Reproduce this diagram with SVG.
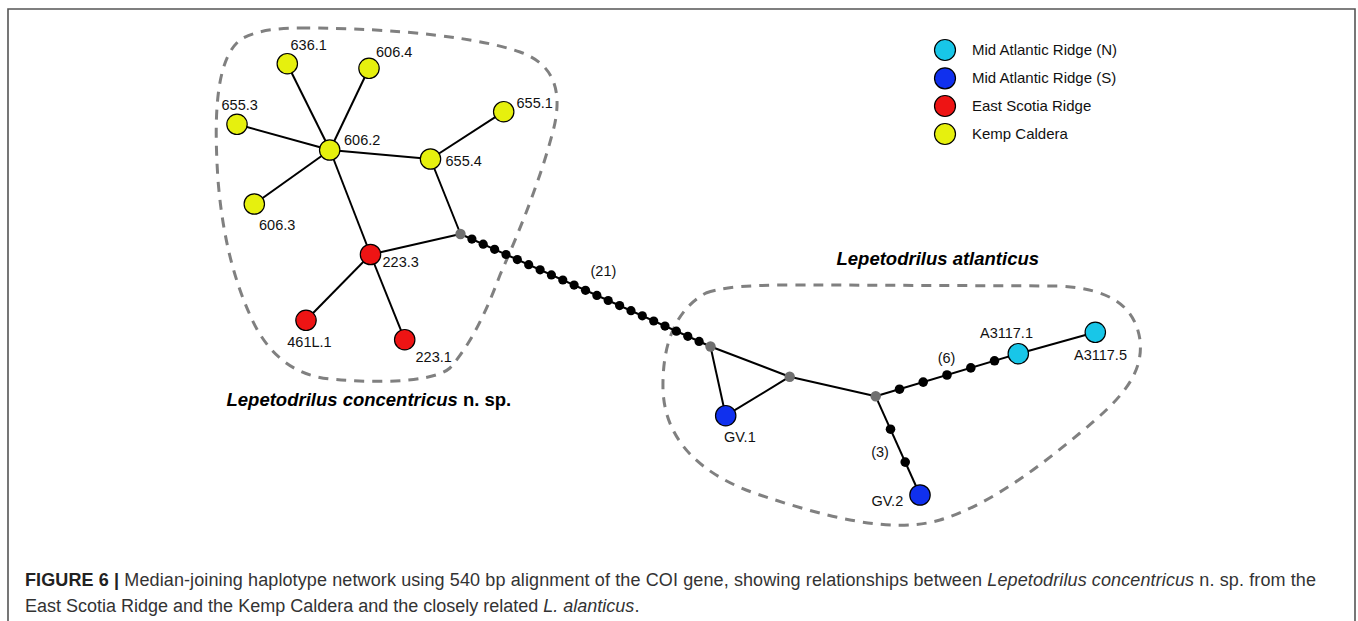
<svg xmlns="http://www.w3.org/2000/svg" width="1358" height="621" viewBox="0 0 1358 621">
<style>
.bg{fill:#fff}
.frame{fill:none;stroke:#555;stroke-width:1.6}
.hull{fill:none;stroke:#808080;stroke-width:3;stroke-dasharray:10 8;stroke-linecap:butt}
.edge{stroke:#000;stroke-width:2;fill:none}
.node{stroke:#000;stroke-width:1.2}
.kc{fill:#E6F00E}
.esr{fill:#EE1414}
.mars{fill:#1030EE}
.marn{fill:#18C6E8}
.med{fill:#707070}
.dot{fill:#000}
.lbl{font-family:"Liberation Sans",Arial,sans-serif;font-size:14.5px;fill:#111}
.leg{font-family:"Liberation Sans",Arial,sans-serif;font-size:15px;fill:#111}
.title{font-family:"Liberation Sans",Arial,sans-serif;font-size:18.5px;font-weight:bold;fill:#000}
.cap{font-family:"Liberation Sans",Arial,sans-serif;font-size:18px;fill:#333}
</style>
<rect class="bg" x="0" y="0" width="1358" height="621"/>
<path class="frame" d="M8,621 V9 H1355 V621"/>

<g id="hulls">
<path class="hull" d="M300,28 C400,28 480,38 520,52 C560,66 562,100 552,135 C540,180 520,230 500,275 C485,315 470,345 450,368 C430,385 360,382 330,379 C290,375 265,350 250,315 C232,275 222,230 218,180 C214,120 215,60 240,40 C255,30 280,28 300,28 Z"/>
<path class="hull" d="M706,293 C730,284 780,285 820,285 L1060,286 C1110,289 1135,306 1140,340 C1144,375 1120,400 1080,433 C1040,466 990,505 940,520 C890,535 820,515 760,495 C700,475 665,440 663,390 C662,345 675,310 706,293 Z"/>
</g>

<g id="connectors">
<line class="edge" x1="330" y1="150" x2="287" y2="63.5"/>
<line class="edge" x1="330" y1="150" x2="369" y2="68.3"/>
<line class="edge" x1="330" y1="150" x2="237" y2="124.3"/>
<line class="edge" x1="330" y1="150" x2="254.3" y2="204"/>
<line class="edge" x1="330" y1="150" x2="430.5" y2="159"/>
<line class="edge" x1="330" y1="150" x2="370.5" y2="254.5"/>
<line class="edge" x1="430.5" y1="159" x2="503.7" y2="111.7"/>
<line class="edge" x1="430.5" y1="159" x2="460.5" y2="234"/>
<line class="edge" x1="370.5" y1="254.5" x2="460.5" y2="234"/>
<line class="edge" x1="370.5" y1="254.5" x2="306" y2="320.3"/>
<line class="edge" x1="370.5" y1="254.5" x2="404.7" y2="339.7"/>
<line class="edge" x1="460.5" y1="234" x2="710.5" y2="346.5"/>
<line class="edge" x1="710.5" y1="346.5" x2="725.7" y2="415.7"/>
<line class="edge" x1="710.5" y1="346.5" x2="789.7" y2="376.7"/>
<line class="edge" x1="789.7" y1="376.7" x2="725.7" y2="415.7"/>
<line class="edge" x1="789.7" y1="376.7" x2="875.7" y2="396.3"/>
<line class="edge" x1="875.7" y1="396.3" x2="1018.3" y2="353.7"/>
<line class="edge" x1="1018.3" y1="353.7" x2="1095.3" y2="332.3"/>
<line class="edge" x1="875.7" y1="396.3" x2="920" y2="495"/>
</g>

<g id="mutation-dots">
<circle class="dot" r="4.6" cx="471.9" cy="239.1"/>
<circle class="dot" r="4.6" cx="483.2" cy="244.2"/>
<circle class="dot" r="4.6" cx="494.6" cy="249.3"/>
<circle class="dot" r="4.6" cx="506.0" cy="254.5"/>
<circle class="dot" r="4.6" cx="517.3" cy="259.6"/>
<circle class="dot" r="4.6" cx="528.7" cy="264.7"/>
<circle class="dot" r="4.6" cx="540.1" cy="269.8"/>
<circle class="dot" r="4.6" cx="551.4" cy="274.9"/>
<circle class="dot" r="4.6" cx="562.8" cy="280.0"/>
<circle class="dot" r="4.6" cx="574.1" cy="285.1"/>
<circle class="dot" r="4.6" cx="585.5" cy="290.3"/>
<circle class="dot" r="4.6" cx="596.9" cy="295.4"/>
<circle class="dot" r="4.6" cx="608.2" cy="300.5"/>
<circle class="dot" r="4.6" cx="619.6" cy="305.6"/>
<circle class="dot" r="4.6" cx="631.0" cy="310.7"/>
<circle class="dot" r="4.6" cx="642.3" cy="315.8"/>
<circle class="dot" r="4.6" cx="653.7" cy="321.0"/>
<circle class="dot" r="4.6" cx="665.0" cy="326.1"/>
<circle class="dot" r="4.6" cx="676.4" cy="331.2"/>
<circle class="dot" r="4.6" cx="687.8" cy="336.3"/>
<circle class="dot" r="4.6" cx="699.1" cy="341.4"/>
<circle class="dot" r="4.8" cx="899.5" cy="389.2"/>
<circle class="dot" r="4.8" cx="923.2" cy="382.1"/>
<circle class="dot" r="4.8" cx="947.0" cy="375.0"/>
<circle class="dot" r="4.8" cx="970.8" cy="367.9"/>
<circle class="dot" r="4.8" cx="994.5" cy="360.8"/>
<circle class="dot" r="4.8" cx="890.5" cy="429.2"/>
<circle class="dot" r="4.8" cx="905.2" cy="462.1"/>
</g>

<g id="median-vectors">
<circle class="med" r="5.2" cx="460.5" cy="234"/>
<circle class="med" r="5.2" cx="710.5" cy="346.5"/>
<circle class="med" r="5.2" cx="789.7" cy="376.7"/>
<circle class="med" r="5.2" cx="875.7" cy="396.3"/>
</g>

<g id="n636-1"><circle class="node kc" r="10.2" cx="287.3" cy="63.7"/><text class="lbl" x="290.5" y="49.5">636.1</text></g>
<g id="n606-4"><circle class="node kc" r="10.2" cx="369" cy="68.3"/><text class="lbl" x="376" y="56.7">606.4</text></g>
<g id="n655-3"><circle class="node kc" r="10.2" cx="237" cy="124.3"/><text class="lbl" x="221.5" y="110">655.3</text></g>
<g id="n606-2"><circle class="node kc" r="10.2" cx="329.7" cy="150"/><text class="lbl" x="344" y="144.5">606.2</text></g>
<g id="n655-4"><circle class="node kc" r="10.2" cx="430.5" cy="159"/><text class="lbl" x="445.5" y="166">655.4</text></g>
<g id="n655-1"><circle class="node kc" r="10.2" cx="503.7" cy="111.7"/><text class="lbl" x="516.5" y="107.7">655.1</text></g>
<g id="n606-3"><circle class="node kc" r="10.2" cx="254.3" cy="204"/><text class="lbl" x="259" y="229.5">606.3</text></g>
<g id="n223-3"><circle class="node esr" r="10.2" cx="370.5" cy="254.5"/><text class="lbl" x="382.5" y="266.7">223.3</text></g>
<g id="n461L-1"><circle class="node esr" r="10.2" cx="306" cy="320.3"/><text class="lbl" x="287.3" y="346.7">461L.1</text></g>
<g id="n223-1"><circle class="node esr" r="10.2" cx="404.7" cy="339.7"/><text class="lbl" x="415.5" y="361.7">223.1</text></g>
<g id="nGV-1"><circle class="node mars" r="10.2" cx="725.7" cy="415.7"/><text class="lbl" x="724" y="442">GV.1</text></g>
<g id="nGV-2"><circle class="node mars" r="10.2" cx="920" cy="495"/><text class="lbl" x="871.5" y="506">GV.2</text></g>
<g id="nA3117-1"><circle class="node marn" r="10.2" cx="1018.3" cy="353.7"/><text class="lbl" x="980" y="338">A3117.1</text></g>
<g id="nA3117-5"><circle class="node marn" r="10.2" cx="1095.3" cy="332.3"/><text class="lbl" x="1074" y="360">A3117.5</text></g>

<g id="step-labels">
<text class="lbl" x="590.5" y="276">(21)</text>
<text class="lbl" x="946.5" y="362.5" text-anchor="middle">(6)</text>
<text class="lbl" x="880" y="456.5" text-anchor="middle">(3)</text>
</g>

<g id="group-titles">
<text class="title" x="836.5" y="265" font-style="italic">Lepetodrilus atlanticus</text>
<text class="title" x="226.5" y="406"><tspan font-style="italic">Lepetodrilus concentricus</tspan> n. sp.</text>
</g>

<g id="legend">
<circle class="node marn" r="10.5" cx="945" cy="50"/><text class="leg" x="972" y="55">Mid Atlantic Ridge (N)</text>
<circle class="node mars" r="10.5" cx="945" cy="78.3"/><text class="leg" x="972" y="83.3">Mid Atlantic Ridge (S)</text>
<circle class="node esr" r="10.5" cx="945" cy="106"/><text class="leg" x="972" y="111">East Scotia Ridge</text>
<circle class="node kc" r="10.5" cx="945" cy="134"/><text class="leg" x="972" y="139">Kemp Caldera</text>
</g>

<g id="caption">
<text class="cap" x="25" y="586" textLength="1291" lengthAdjust="spacing"><tspan font-weight="bold" fill="#222">FIGURE 6 |</tspan> Median-joining haplotype network using 540 bp alignment of the COI gene, showing relationships between <tspan font-style="italic">Lepetodrilus concentricus</tspan> n. sp. from the</text>
<text class="cap" x="25" y="612">East Scotia Ridge and the Kemp Caldera and the closely related <tspan font-style="italic">L. alanticus</tspan>.</text>
</g>
</svg>
